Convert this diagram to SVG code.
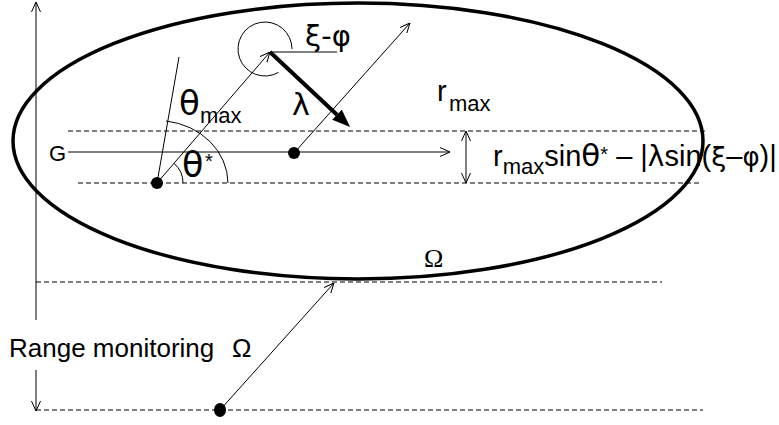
<svg xmlns="http://www.w3.org/2000/svg" width="779" height="425" viewBox="0 0 779 425">
<defs>
<style>
.ln{stroke:#000;stroke-width:1;fill:none}
.dash{stroke:#000;stroke-width:1;stroke-dasharray:5 3;fill:none}
.arr{marker-end:url(#open)}
.t{font-family:"Liberation Sans",Arial,sans-serif;fill:#000}
.gk{font-family:"DejaVu Sans",sans-serif}
.g{font-family:"Liberation Serif","Times New Roman",serif}
.dot{fill:#000}
</style>
<marker id="open" viewBox="0 0 10 10" refX="10" refY="5" markerWidth="10" markerHeight="10" markerUnits="userSpaceOnUse" orient="auto-start-reverse"><path d="M0,0.5 L10,5 L0,9.5" fill="none" stroke="#000" stroke-width="1"/></marker>
<marker id="solid" viewBox="0 0 18 14" refX="0" refY="7" markerWidth="18" markerHeight="14" markerUnits="userSpaceOnUse" orient="auto"><path d="M0,0 L18,7 L0,14 z" fill="#000"/></marker>
</defs>
<rect width="779" height="425" fill="#fff"/>

<g id="region">
<ellipse cx="358" cy="141" rx="345" ry="138" fill="none" stroke="#000" stroke-width="3.5"/>
</g>

<g id="guides">
<line class="dash" x1="68" y1="131" x2="705" y2="131"/>
<line class="dash" x1="78" y1="183" x2="700" y2="183"/>
<line class="dash" x1="36" y1="282" x2="662" y2="282"/>
<line class="dash" x1="36" y1="410" x2="703" y2="410"/>
</g>

<g id="connectors">
<line class="ln arr" x1="36" y1="320" x2="36" y2="2"/>
<line class="ln arr" x1="36" y1="370" x2="36" y2="411"/>
<line class="ln arr" x1="68" y1="152" x2="450" y2="152"/>
<line class="ln" x1="157" y1="183" x2="179" y2="57"/>
<line class="ln arr" x1="157" y1="183" x2="270" y2="52"/>
<line class="ln" x1="270" y1="52" x2="337" y2="52"/>
<path class="ln" d="M292,49 A27,27 0 1,0 278.5,72.4"/>
<line x1="270" y1="52" x2="337" y2="114.7" stroke="#000" stroke-width="4" marker-end="url(#solid)"/>
<line class="ln arr" x1="294" y1="153" x2="410" y2="23"/>
<path class="ln" d="M228,183 A71,63 0 0,0 166,121"/>
<path class="ln" d="M183,183 A26,26 0 0,0 174.1,163.4"/>
<line class="ln" x1="466" y1="131" x2="466" y2="183" marker-start="url(#open)" marker-end="url(#open)"/>
<line class="ln arr" x1="220" y1="410" x2="334" y2="283"/>
</g>

<g id="point-a"><circle class="dot" cx="157" cy="183" r="6"/></g>
<g id="point-g"><circle class="dot" cx="294" cy="153" r="6"/></g>
<g id="point-monitor"><ellipse class="dot" cx="220" cy="410" rx="6" ry="7"/></g>

<g id="labels">
<text class="t" x="49" y="161" font-size="22">G</text>
<text class="t" y="115"><tspan class="gk" x="179" font-size="34">θ</tspan><tspan x="200" y="123" font-size="22">max</tspan></text>
<text class="t" y="177"><tspan class="gk" x="182" font-size="35">θ</tspan><tspan x="205" y="168" font-size="20">*</tspan></text>
<text class="gk" x="292" y="115" font-size="30">λ</text>
<text class="gk" x="305" y="46" font-size="29">ξ-φ</text>
<text class="t" y="101"><tspan x="437" font-size="29">r</tspan><tspan x="449" y="111" font-size="22">max</tspan></text>
<text class="g" x="424" y="267" font-size="26">Ω</text>
<text class="t" x="9" y="357" font-size="26">Range monitoring <tspan x="232">Ω</tspan></text>
<text class="t" x="493" y="166" font-size="29">r<tspan y="174" font-size="22">max</tspan><tspan y="166">sin</tspan><tspan class="gk" font-size="31">θ</tspan><tspan y="161" font-size="20">*</tspan><tspan y="166"> – |</tspan><tspan class="gk" font-size="28">λ</tspan>sin(<tspan class="gk" font-size="27">ξ</tspan>–<tspan class="gk" font-size="26">φ</tspan>)|</text>
</g>
</svg>
